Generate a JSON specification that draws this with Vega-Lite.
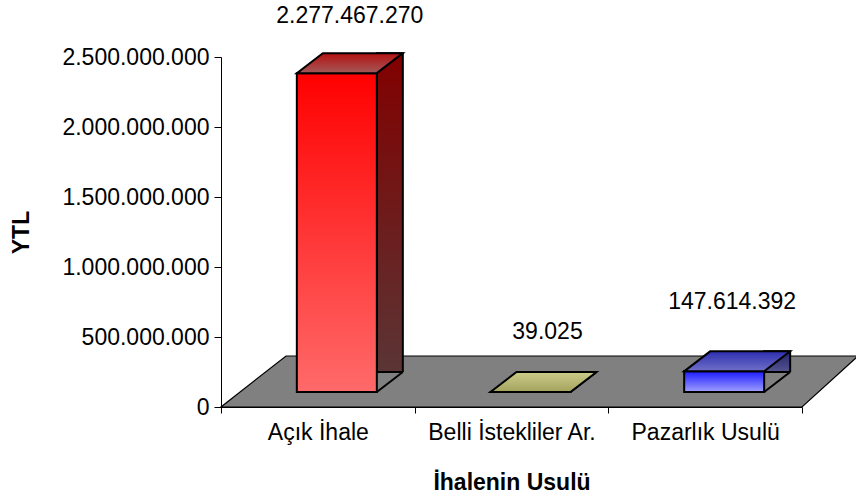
{
  "$schema": "https://vega.github.io/schema/vega-lite/v6.json",
  "width": 581,
  "height": 350,
  "autosize": {"type": "none"},
  "padding": {"left": 221, "top": 57, "right": 54, "bottom": 90},
  "background": "white",
  "config": {
    "view": {"stroke": null},
    "font": "Liberation Sans",
    "locale": {"number": {"decimal": ",", "thousands": ".", "grouping": [3], "currency": ["", ""]}}
  },
  "data": {
    "values": [
      {"usul": "Açık İhale", "tutar": 2277467270},
      {"usul": "Belli İstekliler Ar.", "tutar": 39025},
      {"usul": "Pazarlık Usulü", "tutar": 147614392}
    ]
  },
  "encoding": {
    "x": {
      "field": "usul",
      "type": "nominal",
      "sort": null,
      "scale": {"domain": ["Açık İhale", "Belli İstekliler Ar.", "Pazarlık Usulü"], "paddingInner": 0, "paddingOuter": 0},
      "axis": {
        "title": "İhalenin Usulü",
        "labelAngle": 0,
        "tickBand": "extent",
        "tickSize": 6,
        "tickColor": "#000",
        "domainColor": "#000",
        "labelColor": "#000",
        "labelFontSize": 23,
        "labelFont": "Liberation Sans",
        "labelPadding": 8,
        "titleFont": "Liberation Sans",
        "titleFontSize": 23,
        "titleFontWeight": "bold",
        "titleColor": "#000",
        "titlePadding": 27
      }
    },
    "y": {
      "field": "tutar",
      "type": "quantitative",
      "scale": {"domain": [0, 2500000000], "nice": false},
      "axis": {
        "title": "YTL",
        "values": [0, 500000000, 1000000000, 1500000000, 2000000000, 2500000000],
        "format": ",d",
        "grid": false,
        "tickSize": 7,
        "tickColor": "#000",
        "domainColor": "#000",
        "labelColor": "#000",
        "labelFontSize": 23,
        "labelFont": "Liberation Sans",
        "labelPadding": 5,
        "titleFont": "Liberation Sans",
        "titleFontSize": 23,
        "titleFontWeight": "bold",
        "titleColor": "#000",
        "titlePadding": 28
      }
    }
  },
  "layer": [
    {
      "transform": [{"filter": "datum.usul === 'Belli İstekliler Ar.'"}],
      "mark": {"type": "point", "shape": "M-290.5,0L290.5,0L346.5,-51L-225.5,-51Z", "size": 4, "filled": true, "fill": "#808080", "stroke": "#000", "strokeWidth": 1.2, "opacity": 1},
      "encoding": {"y": {"datum": 0, "type": "quantitative"}}
    },
    {
      "mark": {"type": "bar", "width": 26, "xOffset": 72, "yOffset": -35, "y2Offset": -15, "stroke": "#000", "strokeWidth": 2},
      "encoding": {
        "fill": {
          "condition": [
            {"test": "datum.usul === 'Açık İhale'", "value": {"gradient": "linear", "x1": 0, "y1": 0, "x2": 0, "y2": 1, "stops": [{"offset": 0, "color": "#820000"}, {"offset": 1, "color": "#5b3535"}]}},
            {"test": "datum.usul === 'Belli İstekliler Ar.'", "value": {"gradient": "linear", "x1": 0, "y1": 0, "x2": 0, "y2": 1, "stops": [{"offset": 0, "color": "#70703a"}, {"offset": 1, "color": "#5a5a3a"}]}}
          ],
          "value": {"gradient": "linear", "x1": 0, "y1": 0, "x2": 0, "y2": 1, "stops": [{"offset": 0, "color": "#23236e"}, {"offset": 1, "color": "#55558f"}]}
        }
      }
    },
    {
      "mark": {"type": "point", "shape": "M59,-15L85,-35L89,-35L89,-11L57,-11Z", "size": 4, "filled": true, "fill": "#808080", "strokeWidth": 0, "opacity": 1},
      "encoding": {"y": {"datum": 0, "type": "quantitative"}}
    },
    {
      "mark": {"type": "point", "shape": "M59,-15L85,-35", "size": 4, "filled": false, "stroke": "#000", "strokeWidth": 2, "opacity": 1},
      "encoding": {"y": {"datum": 0, "type": "quantitative"}}
    },
    {
      "mark": {"type": "bar", "width": 80, "xOffset": 19, "yOffset": -15, "y2Offset": -15, "stroke": "#000", "strokeWidth": 2},
      "encoding": {
        "fill": {
          "condition": [
            {"test": "datum.usul === 'Açık İhale'", "value": {"gradient": "linear", "x1": 0, "y1": 0, "x2": 0, "y2": 1, "stops": [{"offset": 0, "color": "#ff0000"}, {"offset": 1, "color": "#ff6a6a"}]}},
            {"test": "datum.usul === 'Belli İstekliler Ar.'", "value": {"gradient": "linear", "x1": 0, "y1": 0, "x2": 0, "y2": 1, "stops": [{"offset": 0, "color": "#c8c87a"}, {"offset": 1, "color": "#a0a05a"}]}}
          ],
          "value": {"gradient": "linear", "x1": 0, "y1": 0, "x2": 0, "y2": 1, "stops": [{"offset": 0, "color": "#1c1cff"}, {"offset": 1, "color": "#a0a0ff"}]}
        }
      }
    },
    {
      "mark": {"type": "point", "shape": "M-21,-15L59,-15L85,-35L5,-35Z", "size": 4, "filled": true, "stroke": "#000", "strokeWidth": 2, "opacity": 1},
      "encoding": {
        "fill": {
          "condition": [
            {"test": "datum.usul === 'Açık İhale'", "value": {"gradient": "linear", "x1": 0, "y1": 0, "x2": 0, "y2": 1, "stops": [{"offset": 0, "color": "#b51212"}, {"offset": 1, "color": "#a35858"}]}},
            {"test": "datum.usul === 'Belli İstekliler Ar.'", "value": {"gradient": "linear", "x1": 0, "y1": 0, "x2": 0, "y2": 1, "stops": [{"offset": 0, "color": "#cdcd8a"}, {"offset": 1, "color": "#a3a35e"}]}}
          ],
          "value": {"gradient": "linear", "x1": 0, "y1": 0, "x2": 0, "y2": 1, "stops": [{"offset": 0, "color": "#2e2eb0"}, {"offset": 1, "color": "#7070c8"}]}
        }
      }
    },
    {
      "transform": [{"filter": "datum.usul === 'Açık İhale'"}],
      "mark": {"type": "text", "dx": 32, "dy": -72, "fontSize": 23, "font": "Liberation Sans", "color": "#000", "baseline": "middle", "align": "center"},
      "encoding": {"text": {"field": "tutar", "type": "quantitative", "format": ",d"}}
    },
    {
      "transform": [{"filter": "datum.usul === 'Belli İstekliler Ar.'"}],
      "mark": {"type": "text", "dx": 36, "dy": -75, "fontSize": 23, "font": "Liberation Sans", "color": "#000", "baseline": "middle", "align": "center"},
      "encoding": {"text": {"field": "tutar", "type": "quantitative", "format": ",d"}}
    },
    {
      "transform": [{"filter": "datum.usul === 'Pazarlık Usulü'"}],
      "mark": {"type": "text", "dx": 27, "dy": -84, "fontSize": 23, "font": "Liberation Sans", "color": "#000", "baseline": "middle", "align": "center"},
      "encoding": {"text": {"field": "tutar", "type": "quantitative", "format": ",d"}}
    }
  ]
}
